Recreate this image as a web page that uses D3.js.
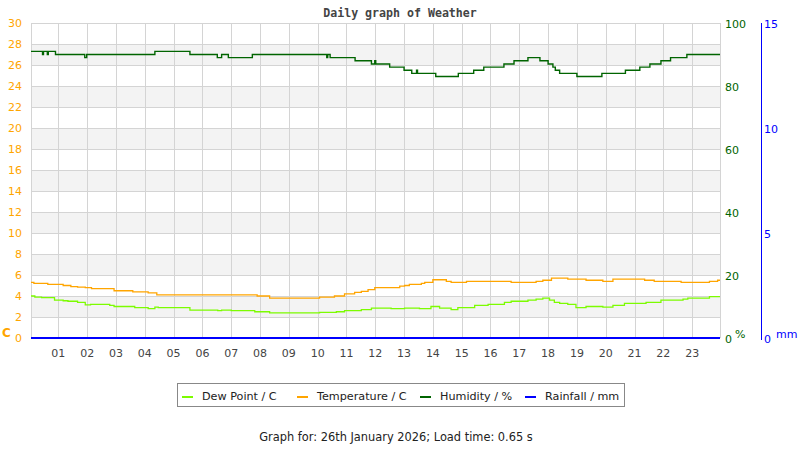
<!DOCTYPE html>
<html>
<head>
<meta charset="utf-8">
<script src="https://cdn.jsdelivr.net/npm/d3@7"></script>
<style>
  body { margin: 0; background: #fff; }
  text { font-family: "DejaVu Sans", sans-serif; }
</style>
</head>
<body>
<script>
// Données (heure, valeur)
const hourLabels = ['01','02','03','04','05','06','07','08','09','10','11','12','13','14','15','16','17','18','19','20','21','22','23']
const tempTicks = [0, 2, 4, 6, 8, 10, 12, 14, 16, 18, 20, 22, 24, 26, 28, 30]
const humTicks = [0, 20, 40, 60, 80, 100]
const rainTicks = [0, 5, 10, 15]

const humidity = [
  ['00:03', 91], ['00:27', 90], ['00:29', 91], ['00:37', 90], ['00:39', 91], ['00:54', 90],
  ['01:55', 89], ['01:59', 90], ['04:21', 91], ['05:34', 90], ['06:31', 89], ['06:40', 90],
  ['06:54', 89], ['07:44', 90], ['10:19', 89], ['10:21', 90], ['10:26', 89], ['11:18', 88],
  ['11:52', 87], ['11:59', 88], ['12:01', 87], ['12:30', 86], ['13:00', 85], ['13:16', 84],
  ['13:26', 85], ['13:28', 84], ['14:06', 83], ['14:53', 84], ['15:25', 85], ['15:46', 86],
  ['16:28', 87], ['16:49', 88], ['17:18', 89], ['17:43', 88], ['18:00', 87], ['18:10', 86],
  ['18:15', 85], ['18:24', 84], ['19:00', 83], ['19:52', 84], ['20:41', 85], ['21:11', 86],
  ['21:32', 87], ['21:55', 88], ['22:15', 89], ['22:49', 90], ['23:58', 90]
]

const temperature = [
  ['00:03', 5.3], ['00:09', 5.2], ['00:38', 5.1], ['01:10', 5.0], ['01:26', 4.9], ['01:40', 4.85],
  ['01:56', 4.8], ['02:09', 4.7], ['02:56', 4.5], ['03:35', 4.4], ['04:07', 4.3], ['04:25', 4.1],
  ['07:54', 4.0], ['08:20', 3.8], ['10:04', 3.9], ['10:35', 4.0], ['10:56', 4.2], ['11:17', 4.35],
  ['11:31', 4.45], ['11:45', 4.6], ['11:59', 4.8], ['12:51', 4.95], ['13:01', 5.0], ['13:11', 5.1],
  ['13:36', 5.2], ['13:43', 5.3], ['14:00', 5.55], ['14:28', 5.4], ['14:38', 5.3], ['15:10', 5.4],
  ['16:43', 5.3], ['17:35', 5.4], ['17:49', 5.5], ['18:07', 5.7], ['18:41', 5.6], ['19:19', 5.5],
  ['19:54', 5.4], ['20:15', 5.6], ['21:21', 5.5], ['21:41', 5.4], ['22:37', 5.3], ['23:36', 5.4],
  ['23:53', 5.5], ['23:58', 5.5]
]

const dewPoint = [
  ['00:03', 4.0], ['00:11', 3.9], ['00:25', 3.85], ['00:52', 3.6], ['01:10', 3.55], ['01:20', 3.5],
  ['01:40', 3.4], ['01:56', 3.15], ['02:07', 3.2], ['02:47', 3.1], ['02:56', 3.0], ['03:39', 2.9],
  ['04:07', 2.8], ['04:21', 2.95], ['04:28', 2.9], ['05:34', 2.65], ['06:32', 2.6], ['06:40', 2.65],
  ['07:00', 2.6], ['07:49', 2.5], ['08:20', 2.4], ['10:04', 2.45], ['10:39', 2.5], ['10:56', 2.6],
  ['11:31', 2.7], ['11:52', 2.85], ['12:33', 2.8], ['13:01', 2.85], ['13:32', 2.8], ['13:56', 3.0],
  ['14:14', 2.85], ['14:38', 2.7], ['14:52', 2.9], ['15:27', 3.1], ['15:55', 3.2], ['16:29', 3.4],
  ['16:43', 3.5], ['17:18', 3.6], ['17:35', 3.7], ['17:49', 3.8], ['18:03', 3.6], ['18:13', 3.4],
  ['18:24', 3.3], ['18:41', 3.2], ['18:58', 2.9], ['19:19', 3.0], ['19:54', 2.95], ['20:15', 3.1],
  ['20:39', 3.3], ['21:24', 3.4], ['21:55', 3.6], ['22:41', 3.7], ['22:51', 3.8], ['23:36', 3.95],
  ['23:58', 3.95]
]

const rainfall = [['00:03', 0], ['23:58', 0]]

// "HH:MM" -> heures décimales
const toHours = s => { const [h, m] = s.split(':').map(Number); return h + m / 60 }

const width = 800, height = 450
const plotLeft = 31, plotRight = 720, plotTop = 23, plotBottom = 338

const svg = d3.select('body')
  .append('svg')
  .attr('width', width)
  .attr('height', height)

const x = d3.scaleLinear()
  .domain(d3.extent(humidity, d => toHours(d[0])))
  .range([plotLeft, plotRight])
const yT = d3.scaleLinear().domain([0, 30]).range([plotBottom, plotTop])
const yH = d3.scaleLinear().domain([0, 100]).range([plotBottom, plotTop])
const yR = d3.scaleLinear().domain([0, 15]).range([plotBottom, plotTop])

// Bandes grises alternées
const bands = tempTicks.filter(t => t % 4 === 2 && t < 30)
svg.append('g').selectAll('rect')
  .data(bands)
  .enter()
  .append('rect')
    .attr('x', plotLeft)
    .attr('width', plotRight - plotLeft)
    .attr('y', d => yT(d + 2))
    .attr('height', d => yT(d) - yT(d + 2))
    .attr('fill', '#f3f3f3')

// Grille horizontale
svg.append('g').selectAll('line')
  .data(tempTicks)
  .enter()
  .append('line')
    .attr('x1', plotLeft).attr('x2', plotRight)
    .attr('y1', d => Math.round(yT(d)) + 0.5)
    .attr('y2', d => Math.round(yT(d)) + 0.5)
    .attr('stroke', '#d4d4d4')

// Grille verticale (heures + bords)
const vlines = hourLabels.map(Number).map(x).concat([plotLeft, plotRight])
svg.append('g').selectAll('line')
  .data(vlines)
  .enter()
  .append('line')
    .attr('x1', d => Math.round(d) + 0.5).attr('x2', d => Math.round(d) + 0.5)
    .attr('y1', plotTop).attr('y2', plotBottom)
    .attr('stroke', '#d4d4d4')

// Axe gauche (température)
svg.append('g').selectAll('text')
  .data(tempTicks)
  .enter()
  .append('text')
    .text(d => d)
    .attr('x', 22)
    .attr('y', d => yT(d) + 4)
    .attr('text-anchor', 'end')
    .attr('font-size', 11)
    .attr('fill', '#ffa500')

svg.append('text')
  .text('C')
  .attr('x', 2).attr('y', 337)
  .attr('font-size', 12).attr('font-weight', 'bold')
  .attr('fill', '#ffa500')

// Axe droit (humidité)
svg.append('g').selectAll('text')
  .data(humTicks)
  .enter()
  .append('text')
    .text(d => d)
    .attr('x', 725)
    .attr('y', d => yH(d) + 5)
    .attr('font-size', 11)
    .attr('fill', '#006400')

svg.append('text')
  .text('%')
  .attr('x', 735).attr('y', 338)
  .attr('font-size', 11)
  .attr('fill', '#006400')

// Axe pluie
svg.append('line')
  .attr('x1', 761.5).attr('x2', 761.5)
  .attr('y1', plotTop).attr('y2', plotBottom + 2)
  .attr('stroke', '#0000ff')

svg.append('g').selectAll('text')
  .data(rainTicks)
  .enter()
  .append('text')
    .text(d => d)
    .attr('x', 764)
    .attr('y', d => yR(d) + 5)
    .attr('font-size', 11)
    .attr('fill', '#0000ff')

svg.append('text')
  .text('mm')
  .attr('x', 776).attr('y', 338)
  .attr('font-size', 11)
  .attr('fill', '#0000ff')

// Labels des heures
svg.append('g').selectAll('text')
  .data(hourLabels)
  .enter()
  .append('text')
    .text(d => d)
    .attr('x', d => x(+d))
    .attr('y', 357)
    .attr('text-anchor', 'middle')
    .attr('font-size', 11)
    .attr('fill', '#444')

// Courbes
const series = [
  { data: dewPoint, y: yT, color: '#7cfc00', w: 1.3 },
  { data: temperature, y: yT, color: '#ffa500', w: 1.3 },
  { data: humidity, y: yH, color: '#006400', w: 1.4 },
  { data: rainfall, y: yR, color: '#0000ff', w: 2 }
]

series.forEach(s => {
  const line = d3.line()
    .x(d => x(toHours(d[0])))
    .y(d => s.y(d[1]))
    .curve(d3.curveStepAfter)
  svg.append('path')
    .datum(s.data)
    .attr('d', line)
    .attr('fill', 'none')
    .attr('stroke', s.color)
    .attr('stroke-width', s.w)
})

// Titre (police mono, via style pour passer devant le CSS)
svg.append('text')
  .text('Daily graph of Weather')
  .attr('x', 400).attr('y', 17)
  .attr('text-anchor', 'middle')
  .style('font-family', '"DejaVu Sans Mono", monospace')
  .attr('font-weight', 'bold')
  .attr('font-size', 11.6)
  .attr('fill', '#444')

// Légende
svg.append('rect')
  .attr('x', 177.5).attr('y', 383.5)
  .attr('width', 447).attr('height', 23)
  .attr('fill', 'none')
  .attr('stroke', '#888')

const legendItems = [
  { label: 'Dew Point / C', color: '#7cfc00', x: 182 },
  { label: 'Temperature / C', color: '#ffa500', x: 297 },
  { label: 'Humidity / %', color: '#006400', x: 420 },
  { label: 'Rainfall / mm', color: '#0000ff', x: 525 }
]

const legend = svg.append('g').selectAll('g')
  .data(legendItems)
  .enter()
  .append('g')

legend.append('line')
  .attr('x1', d => d.x).attr('x2', d => d.x + 11)
  .attr('y1', 397).attr('y2', 397)
  .attr('stroke', d => d.color)
  .attr('stroke-width', 2)

legend.append('text')
  .text(d => d.label)
  .attr('x', d => d.x + 20)
  .attr('y', 400)
  .attr('font-size', 11.2)
  .attr('fill', '#222')

// Pied de page
svg.append('text')
  .text('Graph for: 26th January 2026; Load time: 0.65 s')
  .attr('x', 396).attr('y', 441)
  .attr('text-anchor', 'middle')
  .attr('font-size', 11.4)
  .attr('fill', '#222')
</script>
</body>
</html>
